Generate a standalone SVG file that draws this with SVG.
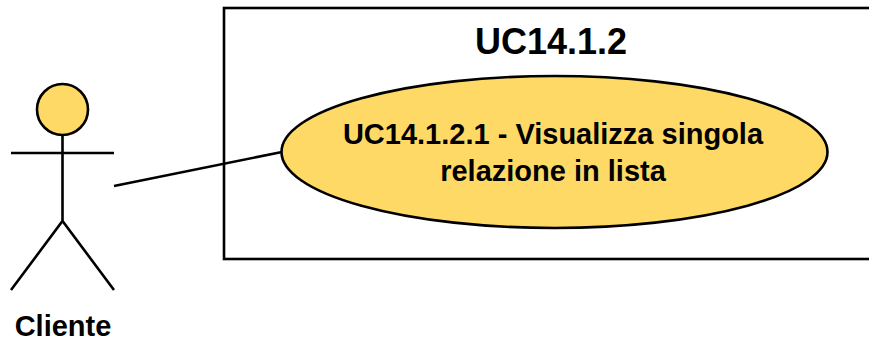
<svg xmlns="http://www.w3.org/2000/svg" width="869" height="340" viewBox="0 0 869 340">
<style>
.l{fill:none;stroke:#000;stroke-width:2.6}
.t{font-family:"Liberation Sans",Arial,sans-serif;font-weight:bold;fill:#000;text-anchor:middle}
</style>
<rect width="869" height="340" fill="#fff"/>
<g id="system"><rect x="224" y="8" width="660" height="251" fill="#fff" stroke="#000" stroke-width="2.6"/>
<text class="t" x="551" y="54" font-size="36">UC14.1.2</text></g>
<g id="connectors"><path class="l" d="M114 186L282 152"/></g>
<g id="usecase"><ellipse cx="554.500" cy="152" rx="273" ry="76" fill="#ffd966" stroke="#000" stroke-width="2.6"/>
<text class="t" x="553" y="144" font-size="29">UC14.1.2.1 - Visualizza singola</text>
<text class="t" x="553" y="181" font-size="29">relazione in lista</text></g>
<g id="actor"><circle cx="62.500" cy="109.500" r="25.500" fill="#ffd966" stroke="#000" stroke-width="2.6"/>
<path class="l" d="M62.500 135V221M11 153H114M11 290L62.500 221L114 290"/>
<text class="t" x="63" y="336" font-size="29">Cliente</text></g>
</svg>
